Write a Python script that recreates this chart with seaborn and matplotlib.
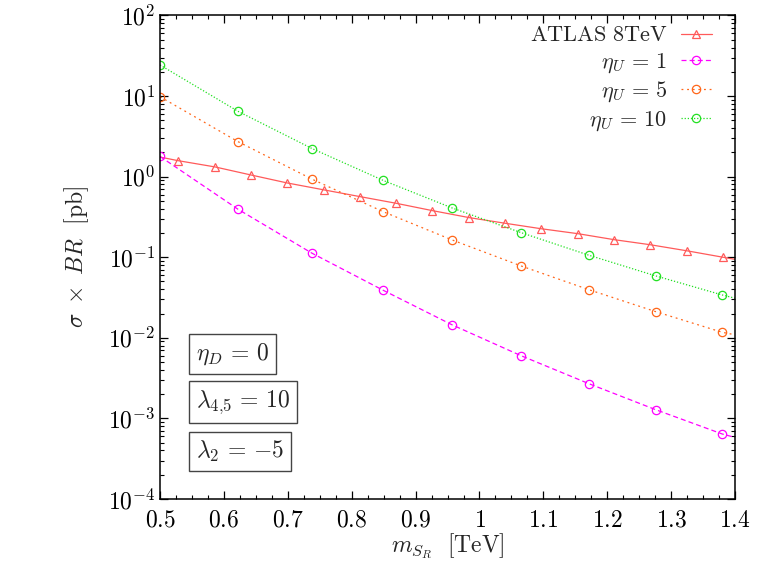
import numpy as np
import pandas as pd
import matplotlib
matplotlib.use("Agg")
import matplotlib.pyplot as plt
import matplotlib.ticker as mticker
import seaborn as sns

sns.set_theme(style="ticks")
plt.rcParams["mathtext.fontset"] = "cm"
plt.rcParams["font.family"] = ["DejaVu Serif"]

# data (last point of each curve = end of the line at 1.4, no marker)
m_eta = [0.5, 0.622, 0.738, 0.849, 0.957, 1.065, 1.171, 1.276, 1.380, 1.4]
eta1 = [1.78, 0.394, 0.112, 0.039, 0.0145, 0.0060, 0.0027, 0.00128, 0.00064, 0.00058]
eta5 = [9.8, 2.72, 0.93, 0.368, 0.164, 0.078, 0.0396, 0.0211, 0.0117, 0.0109]
eta10 = [24.3, 6.47, 2.23, 0.90, 0.409, 0.202, 0.106, 0.0586, 0.034, 0.031]

m_atlas = [0.5, 0.528, 0.586, 0.642, 0.699, 0.757, 0.813, 0.869, 0.926, 0.984,
           1.040, 1.096, 1.154, 1.211, 1.267, 1.325, 1.381, 1.4]
atlas = [1.75, 1.58, 1.32, 1.05, 0.835, 0.684, 0.565, 0.468, 0.379, 0.310,
         0.264, 0.226, 0.196, 0.165, 0.143, 0.120, 0.100, 0.094]

x_ticks = [0.5, 0.6, 0.7, 0.8, 0.9, 1.0, 1.1, 1.2, 1.3, 1.4]
y_ticks = [1e-4, 1e-3, 1e-2, 1e-1, 1e0, 1e1, 1e2]

fig = plt.figure(figsize=(7.57, 5.67), dpi=100)
ax = fig.add_axes([0.2114, 0.120, 0.7596, 0.8527])

df_atlas = pd.DataFrame({"m": m_atlas, "xs": atlas})
sns.lineplot(data=df_atlas, x="m", y="xs", ax=ax, color="#ff5a5a", linewidth=0.9,
             marker="^", markersize=6, markerfacecolor="none", markeredgecolor="#ff5a5a",
             markeredgewidth=0.9, markevery=list(range(1, len(m_atlas) - 1)),
             label=r"$\mathrm{ATLAS\ 8TeV}$")

series = [
    (eta1, "#ff00ff", (0, (4, 2.5)), r"$\eta_U\,=\,1$"),
    (eta5, "#ff6619", (0, (1.5, 3)), r"$\eta_U\,=\,5$"),
    (eta10, "#22e022", (0, (1, 1.5)), r"$\eta_U\,=\,10$"),
]
for vals, col, ls, lab in series:
    d = pd.DataFrame({"m": m_eta, "xs": vals})
    sns.lineplot(data=d, x="m", y="xs", ax=ax, color=col, linewidth=0.9, linestyle=ls,
                 marker="o", markersize=6, markerfacecolor="none", markeredgecolor=col,
                 markeredgewidth=0.9, markevery=list(range(len(m_eta) - 1)), label=lab)

ax.set_yscale("log")
ax.set_xlim(0.5, 1.4)
ax.set_ylim(1e-4, 1e2)

ax.set_xticks(x_ticks)
ax.set_xticklabels([r"$%g$" % v for v in x_ticks])
ax.xaxis.set_minor_locator(mticker.MultipleLocator(0.025))
ax.set_yticks(y_ticks)
ax.set_yticklabels([r"$10^{%d}$" % round(np.log10(v)) for v in y_ticks])
ax.yaxis.set_minor_locator(mticker.LogLocator(base=10, subs=np.arange(2, 10), numticks=20))
ax.yaxis.set_minor_formatter(mticker.NullFormatter())
ax.set_ylim(1e-4, 1e2)

ax.tick_params(which="both", direction="in", top=True, right=True, colors="black", labelsize=17)
ax.tick_params(which="major", length=6, width=0.9)
ax.tick_params(which="minor", length=3, width=0.8)
ax.tick_params(axis="x", pad=7)
for s in ax.spines.values():
    s.set_linewidth(1.1)
    s.set_color("black")

ax.set_xlabel(r"$m_{S_R}\ \ \mathrm{[TeV]}$", fontsize=17, labelpad=0)
ax.set_ylabel(r"$\sigma\ \times\ BR\ \ \mathrm{[pb]}$", fontsize=17, labelpad=12)

leg = ax.legend(loc="upper right", frameon=False, markerfirst=False, fontsize=16,
                handlelength=1.4, handletextpad=0.6, labelspacing=0.2,
                borderaxespad=0.0, bbox_to_anchor=(0.975, 1.0))

box = dict(boxstyle="square,pad=0.3", facecolor="white", edgecolor="#444444", linewidth=1.0)
for ypos, txt in [(0.299, r"$\eta_D\,=\,0$"), (0.200, r"$\lambda_{4{,}5}\,=\,10$"),
                  (0.099, r"$\lambda_2\,=\,{-}5$")]:
    ax.text(0.062, ypos, txt, transform=ax.transAxes, fontsize=17, ha="left", va="center", bbox=box)

fig.savefig("out.png", dpi=100)
